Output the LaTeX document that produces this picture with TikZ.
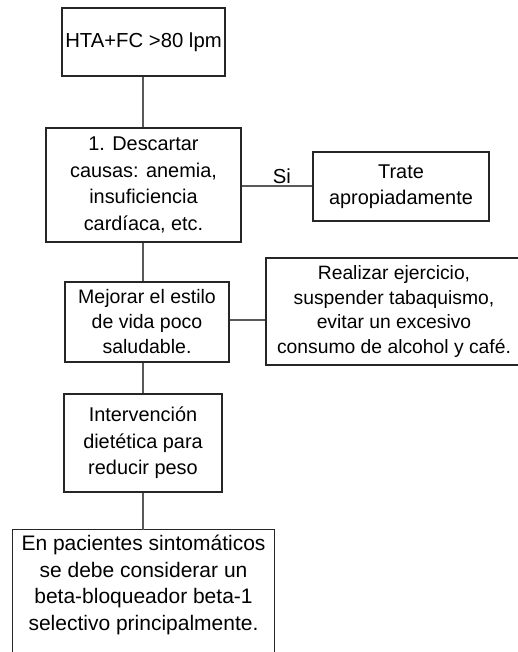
\documentclass[tikz,border=0pt]{standalone}
\usepackage{fontspec}
\setmainfont{Liberation Sans}
\begin{document}
\begin{tikzpicture}[x=1bp,y=-1bp,
  txt/.style={align=center, inner sep=0pt, font=\fontsize{19.9bp}{26.5bp}\selectfont, text=black},
  box/.style={txt, draw=black!85, line width=1.1bp},
  frame/.style={draw=black!85, line width=1.1bp},
  link/.style={draw=black!65, line width=1.2bp}]
\useasboundingbox (0,0) rectangle (518,652);
\clip (0,0) rectangle (518,652);
\fill[white] (0,0) rectangle (518,652);

\node[box, minimum width=163bp, minimum height=68bp, font=\fontsize{20.3bp}{26bp}\selectfont] (hta) at (143.5,42) {HTA+FC >80 lpm};
\node[box, minimum width=195bp, minimum height=114bp] (desc) at (143.5,185) {1. Descartar\\causas: anemia,\\insuficiencia\\card\'iaca, etc.};
\node[box, minimum width=176bp, minimum height=69bp] (trate) at (401,186.5) {Trate\\apropiadamente};
\node[box, minimum width=256bp, minimum height=107bp, font=\fontsize{19.3bp}{24.6bp}\selectfont] (real) at (394,311.5) {Realizar ejercicio,\\suspender tabaquismo,\\evitar un excesivo\\consumo de alcohol y caf\'e.};
\node[box, minimum width=164bp, minimum height=80bp, font=\fontsize{19.5bp}{25bp}\selectfont] (mej) at (147,322) {Mejorar el estilo\\de vida poco\\saludable.};
\node[box, minimum width=158bp, minimum height=98bp] (diet) at (143,443) {Intervenci\'on\\diet\'etica para\\reducir peso};
\node[txt, minimum width=261bp, minimum height=110bp, font=\fontsize{21bp}{26.5bp}\selectfont] (sym) at (143.5,585) {En pacientes sintom\'aticos\\se debe considerar un\\beta-bloqueador beta-1\\selectivo principalmente.};
\draw[frame] ([yshift=-40bp]sym.south west) -- (sym.north west) -- (sym.north east) -- ([yshift=-40bp]sym.south east);

\draw[link] (hta.south -| 143,0) -- (desc.north -| 143,0);
\draw[link] (desc.south -| 143,0) -- (mej.north -| 143,0);
\draw[link] (mej.south -| 143,0) -- (diet.north -| 143,0);
\draw[link] (diet.south -| 143,0) -- (sym.north -| 143,0);
\draw[link] (desc.east |- 0,186) -- (trate.west |- 0,186) node[txt, pos=0.57, above, inner sep=2bp, font=\fontsize{20.3bp}{26bp}\selectfont] (si) {Si};
\draw[link] (mej.east |- 0,320) -- (real.west |- 0,320);
\end{tikzpicture}
\end{document}
